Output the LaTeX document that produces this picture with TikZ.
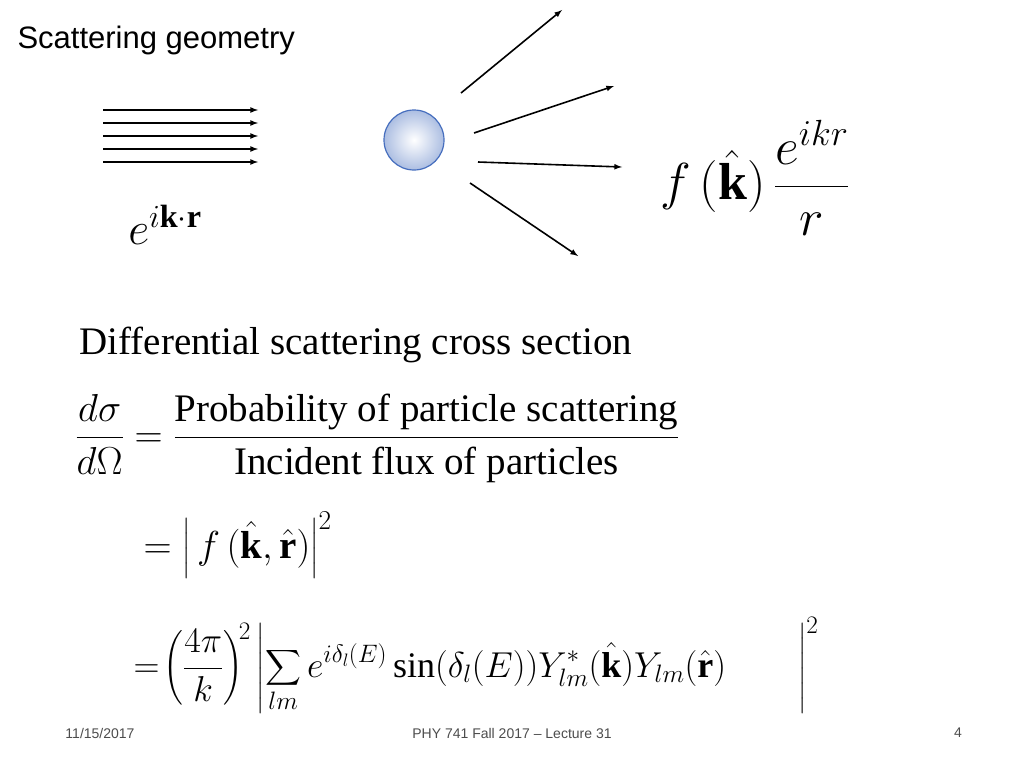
\RequirePackage{fix-cm}
\documentclass[tikz,border=0pt]{standalone}
\usepackage{amsmath}
\usepackage{fontspec}
\setmainfont{Liberation Serif}
\setsansfont{Liberation Sans}
\definecolor{ballblue}{RGB}{70,110,190}
\tikzset{
  ray/.style={-latex, line width=1.6pt},
  big/.style={font=\fontsize{39}{44}\selectfont},
  foot/.style={font=\sffamily\fontsize{14}{16}\selectfont, text=black!70}
}
\begin{document}
\begin{tikzpicture}[x=1pt,y=-1pt]
\useasboundingbox (0,0) rectangle (1024,768);
% title
\node[anchor=west, font=\sffamily\fontsize{31}{34}\selectfont] (title) at (14,40) {Scattering geometry};

% incident plane wave
\foreach\y in {110,123,136,149,162}
\draw[ray] (103,\y) -- (258,\y);
\node[font=\fontsize{46}{50}\selectfont] (inc) at (165,225) {$e^{i\mathbf{k}\cdot\mathbf{r}}$};

% scatterer
\node[circle, minimum size=60pt, draw=ballblue, line width=1.2pt, inner color=white, outer color=ballblue!45] (ball) at (414,140) {};

% scattered rays
\draw[ray] (461,93) -- (562,10);
\draw[ray] (474,133) -- (614,86);
\draw[ray] (478,162) -- (622,167);
\draw[ray] (470,183) -- (578,256);

% outgoing wave
\node[font=\fontsize{52}{56}\selectfont] (out) at (755,178) {$f\,(\hat{\mathbf{k}})\,\dfrac{e^{ikr}}{r}$};

% cross section
\node[anchor=west, big] (head) at (76,345) {Differential scattering cross section};
\node[anchor=west, big] (eq1) at (72,438) {$\dfrac{d\sigma}{d\Omega}=\dfrac{\text{Probability of particle scattering}}{\text{Incident flux of particles}}$};
\node[anchor=west, big] (eq2) at (140,545) {$=\left|\,f\,(\hat{\mathbf{k}},\hat{\mathbf{r}})\right|^2$};
\node[anchor=west, font=\fontsize{36}{40}\selectfont] (eq3) at (130,665) {$\displaystyle=\!\left(\frac{4\pi}{k}\right)^{\!2}\left|\sum_{lm} e^{i\delta_l(E)}\,\text{sin}(\delta_l(E))Y^{*}_{lm}(\hat{\mathbf{k}})Y_{lm}(\hat{\mathbf{r}})\qquad\right|^2$};

% footer
\node[foot] (date) at (100,733) {11/15/2017};
\node[foot] (course) at (512,733) {PHY 741  Fall 2017 -- Lecture 31};
\node[foot] (page) at (958,733) {4};
\end{tikzpicture}
\end{document}
